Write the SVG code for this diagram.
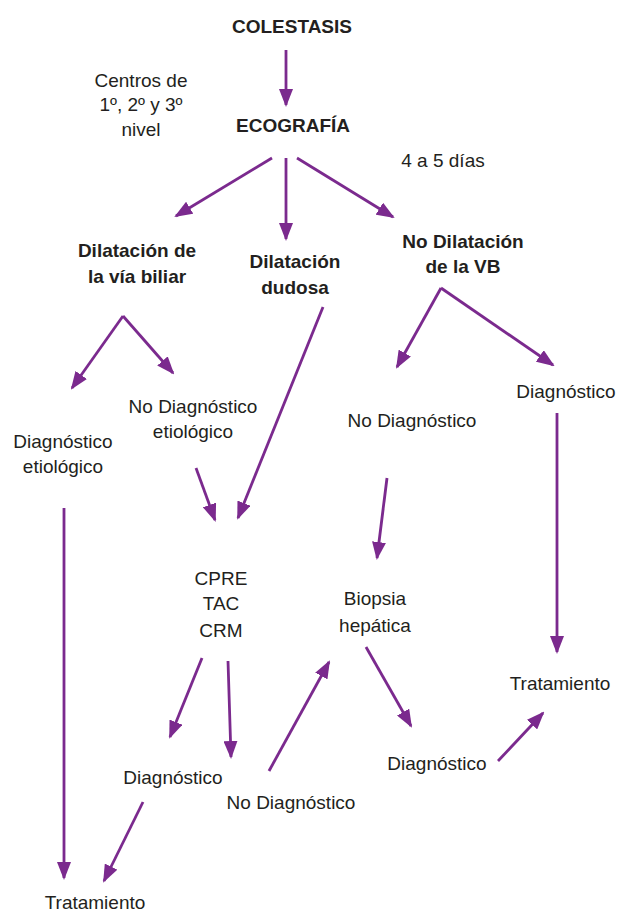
<svg xmlns="http://www.w3.org/2000/svg" width="618" height="914" viewBox="0 0 618 914">
<style>
text{font-family:"Liberation Sans",Arial,sans-serif;font-size:19px;fill:#231f20;text-anchor:middle}
.b{font-weight:bold}
.c line{stroke:#7b2a8e;stroke-width:2.8;marker-end:url(#ah)}
</style>
<defs>
<marker id="ah" markerUnits="userSpaceOnUse" markerWidth="18" markerHeight="14" refX="16" refY="7" orient="auto">
<path d="M0,0 L18,7 L0,14 z" fill="#7b2a8e"/>
</marker>
</defs>
<rect width="618" height="914" fill="#fff"/>
<g class="c" id="connectors">
<line x1="286" y1="50" x2="286" y2="105"/>
<line x1="272" y1="158" x2="176" y2="216"/>
<line x1="286" y1="158" x2="286" y2="239"/>
<line x1="297" y1="158" x2="393" y2="217"/>
<line x1="123" y1="316" x2="72" y2="388"/>
<line x1="123" y1="316" x2="173" y2="373"/>
<line x1="323" y1="307" x2="238" y2="518"/>
<line x1="196" y1="468" x2="215" y2="520"/>
<line x1="64" y1="508" x2="64" y2="878"/>
<line x1="441" y1="288" x2="397" y2="367"/>
<line x1="441" y1="288" x2="553" y2="365"/>
<line x1="557" y1="413" x2="557" y2="652"/>
<line x1="387" y1="478" x2="377" y2="558"/>
<line x1="202" y1="658" x2="170" y2="737"/>
<line x1="228" y1="661" x2="231" y2="757"/>
<line x1="269" y1="771" x2="329" y2="662"/>
<line x1="366" y1="647" x2="411" y2="726"/>
<line x1="498" y1="761" x2="543" y2="713"/>
<line x1="143" y1="802" x2="104" y2="881"/>
</g>
<g id="colestasis"><text class="b" x="292" y="33">COLESTASIS</text></g>
<g id="ecografia"><text class="b" x="293" y="132">ECOGRAFÍA</text></g>
<g id="centros"><text x="141" y="87">Centros de</text><text x="141" y="111">1º, 2º y 3º</text><text x="141" y="136">nivel</text></g>
<g id="dias"><text x="443" y="167">4 a 5 días</text></g>
<g id="dilatacion"><text class="b" x="137" y="257">Dilatación de</text><text class="b" x="137" y="283">la vía biliar</text></g>
<g id="dudosa"><text class="b" x="295" y="268">Dilatación</text><text class="b" x="295" y="294">dudosa</text></g>
<g id="nodilatacion"><text class="b" x="463" y="248">No Dilatación</text><text class="b" x="463" y="273">de la VB</text></g>
<g id="diag-etio"><text x="63" y="448">Diagnóstico</text><text x="63" y="473">etiológico</text></g>
<g id="nodiag-etio"><text x="193" y="413">No Diagnóstico</text><text x="193" y="438">etiológico</text></g>
<g id="diag-right"><text x="566" y="398">Diagnóstico</text></g>
<g id="nodiag-right"><text x="412" y="427">No Diagnóstico</text></g>
<g id="cpre"><text x="221" y="585">CPRE</text><text x="221" y="610">TAC</text><text x="221" y="637">CRM</text></g>
<g id="biopsia"><text x="375" y="605">Biopsia</text><text x="375" y="632">hepática</text></g>
<g id="trat-right"><text x="560" y="690">Tratamiento</text></g>
<g id="diag-bottom-right"><text x="437" y="770">Diagnóstico</text></g>
<g id="diag-mid"><text x="173" y="784">Diagnóstico</text></g>
<g id="nodiag-mid"><text x="291" y="809">No Diagnóstico</text></g>
<g id="trat-left"><text x="95" y="909">Tratamiento</text></g>
</svg>
